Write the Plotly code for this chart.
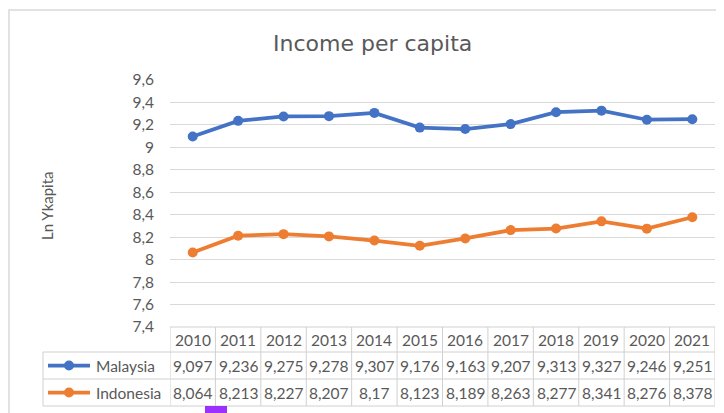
import plotly.graph_objects as go

# ---- data ----
years = ["2010", "2011", "2012", "2013", "2014", "2015", "2016", "2017", "2018", "2019", "2020", "2021"]
malaysia = [9.097, 9.236, 9.275, 9.278, 9.307, 9.176, 9.163, 9.207, 9.313, 9.327, 9.246, 9.251]
indonesia = [8.064, 8.213, 8.227, 8.207, 8.17, 8.123, 8.189, 8.263, 8.277, 8.341, 8.276, 8.378]
series_names = ["Malaysia", "Indonesia"]
y_ticks = [7.4, 7.6, 7.8, 8.0, 8.2, 8.4, 8.6, 8.8, 9.0, 9.2, 9.4, 9.6]
title_text = "Income per capita"
y_title = "Ln Ykapita"

def fmt(v, nd):
    s = f"{v:.{nd}f}".rstrip("0").rstrip(".")
    return s.replace(".", ",")

y_tick_labels = [fmt(v, 1) for v in y_ticks]

# ---- layout geometry (reference-window pixels; page body adds an 8px offset) ----
OFF = 8
W, H = 724 - OFF, 413 - OFF
PL, PR, PT, PB = 170, 715, 80, 327  # plot area in window pixels
L = PL - OFF
T = PT - OFF
R = W - (PR - OFF)
B = H - (PB - OFF)
PW = PR - PL
PH = PB - PT

def px(x):
    return (x - PL) / PW

def py(y):
    return (PB - y) / PH

BLUE = "#4472C4"
ORANGE = "#ED7D31"
TEXT = "#595959"
GRID = "#D9D9D9"
FONT = "Lato"
colors = [BLUE, ORANGE]
values = [malaysia, indonesia]

fig = go.Figure()
for name, vals, c in zip(series_names, values, colors):
    fig.add_trace(go.Scatter(
        x=years, y=vals, name=name, mode="lines+markers",
        line=dict(color=c, width=3.75),
        marker=dict(color=c, size=10),
        showlegend=False, cliponaxis=False,
    ))

shapes = []
annotations = []

# table rows (window pixel y boundaries)
row_top = [327, 352, 379]
row_bot = [352, 379, 406]
row_mid = [(a + b) / 2 for a, b in zip(row_top, row_bot)]
line_style = dict(color="#D0D0D0", width=1)

shapes.append(dict(type="line", xref="paper", yref="paper", x0=0, x1=1, y0=py(327), y1=py(327), line=line_style))
for yy in [352, 379, 406]:
    shapes.append(dict(type="line", xref="paper", yref="paper", x0=px(43), x1=1, y0=py(yy), y1=py(yy), line=line_style))
for i in range(len(years) + 1):
    shapes.append(dict(type="line", xref="x", yref="paper", x0=i - 0.5, x1=i - 0.5, y0=py(327), y1=py(406), line=line_style))
shapes.append(dict(type="line", xref="paper", yref="paper", x0=px(43), x1=px(43), y0=py(352), y1=py(406), line=line_style))

for i, yr in enumerate(years):
    annotations.append(dict(x=i, xref="x", y=py(row_mid[0]), yref="paper", text=yr, showarrow=False,
                            xanchor="center", yanchor="middle", font=dict(family=FONT, size=15.5, color=TEXT)))
for r, vals in enumerate(values):
    for i, v in enumerate(vals):
        annotations.append(dict(x=i, xref="x", y=py(row_mid[r + 1]), yref="paper", text=fmt(v, 3), showarrow=False,
                                xanchor="center", yanchor="middle", font=dict(family=FONT, size=15.5, color=TEXT)))

for r, (name, c) in enumerate(zip(series_names, colors)):
    ym = row_mid[r + 1]
    shapes.append(dict(type="line", xref="paper", yref="paper", x0=px(48), x1=px(90), y0=py(ym), y1=py(ym),
                       line=dict(color=c, width=3.75)))
    shapes.append(dict(type="circle", xref="paper", yref="paper", x0=px(64), x1=px(74), y0=py(ym - 5), y1=py(ym + 5),
                       fillcolor=c, line=dict(color=c, width=0)))
    annotations.append(dict(x=px(94), xref="paper", y=py(ym), yref="paper", text=name, showarrow=False,
                            xanchor="left", yanchor="middle", font=dict(family=FONT, size=15.5, color=TEXT)))

annotations.append(dict(x=px(47), xref="paper", y=py(206), yref="paper", text=y_title, textangle=-90, showarrow=False,
                        xanchor="center", yanchor="middle", font=dict(family=FONT, size=15, color=TEXT)))
annotations.append(dict(x=px(372), xref="paper", y=py(43), yref="paper", text=title_text, showarrow=False,
                        xanchor="center", yanchor="middle", font=dict(family="DejaVu Sans", size=22, color=TEXT)))

# chart frame (left and top edges)
shapes.append(dict(type="path", xref="paper", yref="paper",
                   path=f"M {px(9)},{py(420)} L {px(9)},{py(10)} L {px(730)},{py(10)}",
                   line=dict(color="#D9D9D9", width=1.5)))
shapes.append(dict(type="rect", xref="paper", yref="paper", x0=px(205), x1=px(227), y0=py(420), y1=py(406),
                   fillcolor="#9B30FF", line=dict(width=0)))

fig.update_layout(
    width=W, height=H,
    margin=dict(l=L, r=R, t=T, b=B),
    paper_bgcolor="white", plot_bgcolor="white",
    showlegend=False,
    shapes=shapes, annotations=annotations,
    xaxis=dict(type="category", range=[-0.5, len(years) - 0.5], showticklabels=False, showgrid=False,
               zeroline=False, showline=False, ticks=""),
    yaxis=dict(range=[7.4, 9.6], tickvals=y_ticks, ticktext=y_tick_labels, showgrid=True, gridcolor=GRID,
               gridwidth=1, zeroline=False, showline=False, ticks="", ticklabelstandoff=15,
               tickfont=dict(family=FONT, size=15.5, color=TEXT)),
    font=dict(family=FONT, color=TEXT),
)

fig.write_html("out.html")
